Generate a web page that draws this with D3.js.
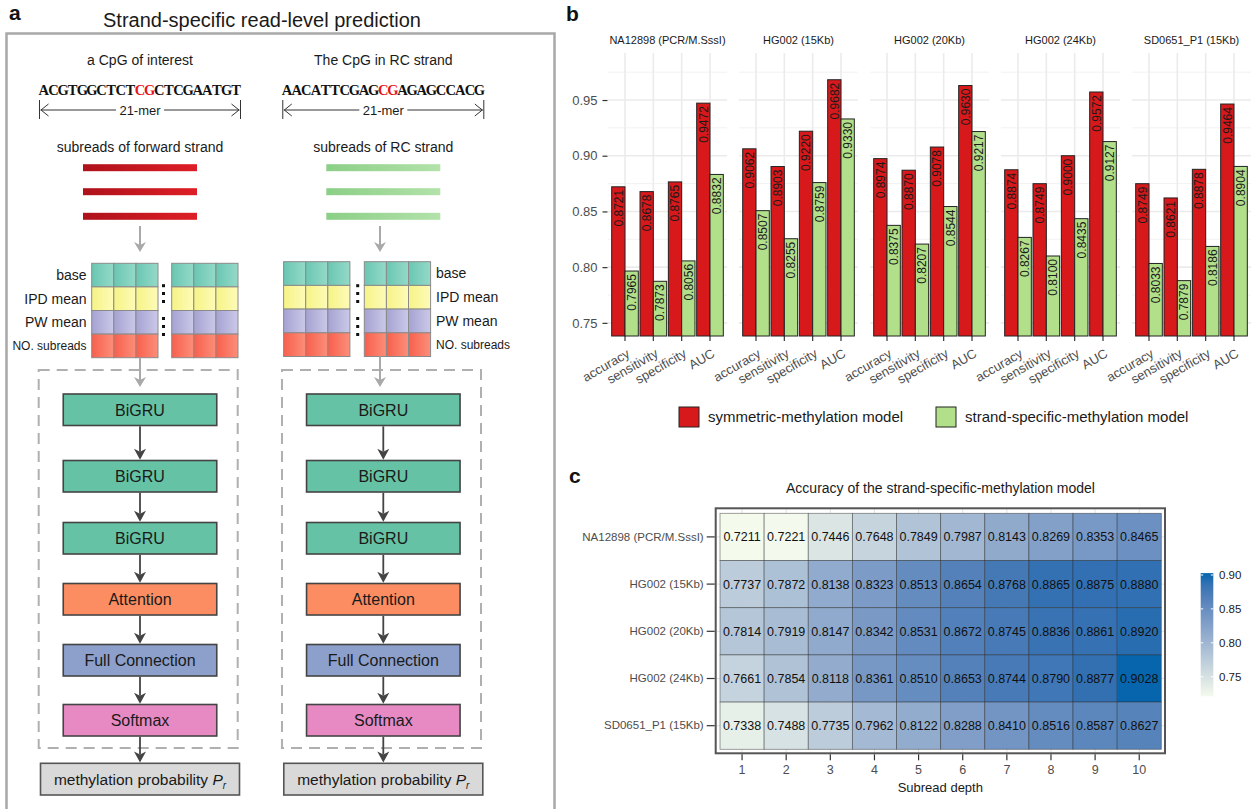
<!DOCTYPE html>
<html>
<head>
<meta charset="utf-8">
<script src="https://cdn.jsdelivr.net/npm/d3@7"></script>
<style>
  body { margin: 0; background: #fff; }
  svg { display: block; font-family: "Liberation Sans", Arial, sans-serif; }
</style>
</head>
<body>
<svg id="fig" width="1255" height="809"></svg>
<script>
// ---------------- data ----------------
const datasets = ["NA12898 (PCR/M.SssI)", "HG002 (15Kb)", "HG002 (20Kb)", "HG002 (24Kb)", "SD0651_P1 (15Kb)"];
const metrics = ["accuracy", "sensitivity", "specificity", "AUC"];
const models = ["symmetric-methylation model", "strand-specific-methylation model"];

// rows: datasets, columns: metrics
const symmetricValues = [
  [0.8721, 0.8678, 0.8765, 0.9472],
  [0.9062, 0.8903, 0.9220, 0.9682],
  [0.8974, 0.8870, 0.9078, 0.9630],
  [0.8874, 0.8749, 0.9000, 0.9572],
  [0.8749, 0.8621, 0.8878, 0.9464]
];
const strandValues = [
  [0.7965, 0.7873, 0.8056, 0.8832],
  [0.8507, 0.8255, 0.8759, 0.9330],
  [0.8375, 0.8207, 0.8544, 0.9217],
  [0.8267, 0.8100, 0.8435, 0.9127],
  [0.8033, 0.7879, 0.8186, 0.8904]
];
const barTicks = [0.75, 0.80, 0.85, 0.90, 0.95];
const barMinorTicks = [0.775, 0.825, 0.875, 0.925, 0.975];

const depths = [1, 2, 3, 4, 5, 6, 7, 8, 9, 10];
// rows: datasets, columns: subread depth
const depthAccuracy = [
  [0.7211, 0.7221, 0.7446, 0.7648, 0.7849, 0.7987, 0.8143, 0.8269, 0.8353, 0.8465],
  [0.7737, 0.7872, 0.8138, 0.8323, 0.8513, 0.8654, 0.8768, 0.8865, 0.8875, 0.8880],
  [0.7814, 0.7919, 0.8147, 0.8342, 0.8531, 0.8672, 0.8745, 0.8836, 0.8861, 0.8920],
  [0.7661, 0.7854, 0.8118, 0.8361, 0.8510, 0.8653, 0.8744, 0.8790, 0.8877, 0.9028],
  [0.7338, 0.7488, 0.7735, 0.7962, 0.8122, 0.8288, 0.8410, 0.8516, 0.8587, 0.8627]
];
const colorbarTicks = [0.75, 0.80, 0.85, 0.90];

// schematic labels
const forwardSeq = ["ACGTGGCTCT", "CG", "CTCGAATGT"];
const rcSeq = ["AACATTCGAG", "CG", "AGAGCCACG"];
const featureRows = ["base", "IPD mean", "PW mean", "NO. subreads"];
const layers = ["BiGRU", "BiGRU", "BiGRU", "Attention", "Full Connection", "Softmax"];

// ---------------- setup ----------------
const svg = d3.select("#fig");
const defs = svg.append("defs");
const TXT = "#1a1a1a", AXT = "#4d4d4d";

function hGrad(id, c0, c1) {
  const g = defs.append("linearGradient").attr("id", id)
    .attr("x1", 0).attr("y1", 0).attr("x2", 1).attr("y2", 0);
  g.append("stop").attr("offset", 0).attr("stop-color", c0);
  g.append("stop").attr("offset", 1).attr("stop-color", c1);
}
hGrad("gRed", "#ae121b", "#de1e26");
hGrad("gGreen", "#8bcf86", "#b3e2aa");
const rowGrads = [
  ["gBase", "#69c7b2", "#95d9c8"],
  ["gIpd", "#f6f386", "#fdfbb8"],
  ["gPw", "#a5a2d2", "#cbc9e8"],
  ["gNo", "#f85f4c", "#fb8f7a"]
];
rowGrads.forEach(r => hGrad(r[0], r[1], r[2]));

// ================= panel a: schematic =================
const A = svg.append("g");
A.append("text").attr("x", 9).attr("y", 20).attr("font-size", 21).attr("font-weight", "bold")
  .attr("fill", "#111").text("a");
A.append("text").attr("x", 262).attr("y", 27).attr("text-anchor", "middle")
  .attr("font-size", 20).attr("fill", TXT).text("Strand-specific read-level prediction");
A.append("rect").attr("x", 6.5).attr("y", 33.5).attr("width", 548).attr("height", 800)
  .attr("fill", "none").attr("stroke", "#a8a8a8").attr("stroke-width", 2.5);

function strandColumn(opt) {
  const g = A.append("g");
  const cx = opt.cx;
  g.append("text").attr("x", cx).attr("y", 65).attr("text-anchor", "middle")
    .attr("font-size", 14).attr("fill", TXT).text(opt.title);

  // 21-mer sequence, one character per monospace cell
  const chars = [];
  opt.seq.forEach((part, k) => part.split("").forEach(ch => chars.push({ ch, red: k === 1 })));
  const cw = 9.62, x0 = cx - cw * chars.length / 2;
  g.selectAll(null).data(chars).join("text")
    .attr("x", (d, i) => x0 + (i + 0.5) * cw).attr("y", 95)
    .attr("text-anchor", "middle").attr("font-family", "'Liberation Serif', 'Times New Roman', serif")
    .attr("font-weight", "bold").attr("font-size", 14.5)
    .attr("fill", d => d.red ? "#e8141b" : "#111").text(d => d.ch);

  // 21-mer span arrow
  const xl = x0 + 0.5, xr = x0 + cw * chars.length - 0.5, ya = 110;
  const s = g.append("g").attr("stroke", "#333").attr("stroke-width", 1).attr("fill", "none");
  s.append("line").attr("x1", xl).attr("x2", xl).attr("y1", 100).attr("y2", 119);
  s.append("line").attr("x1", xr).attr("x2", xr).attr("y1", 100).attr("y2", 119);
  s.append("line").attr("x1", xl + 1).attr("x2", cx - 24).attr("y1", ya).attr("y2", ya);
  s.append("line").attr("x1", cx + 24).attr("x2", xr - 1).attr("y1", ya).attr("y2", ya);
  s.append("path").attr("d", `M${xl + 9},${ya - 6} L${xl + 1.5},${ya} L${xl + 9},${ya + 6}`);
  s.append("path").attr("d", `M${xr - 9},${ya - 6} L${xr - 1.5},${ya} L${xr - 9},${ya + 6}`);
  g.append("text").attr("x", cx).attr("y", ya + 4.5).attr("text-anchor", "middle")
    .attr("font-size", 13).attr("fill", TXT).text("21-mer");

  // subreads
  g.append("text").attr("x", cx).attr("y", 152).attr("text-anchor", "middle")
    .attr("font-size", 14).attr("fill", TXT).text(opt.subTitle);
  [167.7, 191.7, 216.3].forEach(y => {
    g.append("rect").attr("x", cx - 57).attr("y", y - 3.5).attr("width", 114).attr("height", 7)
      .attr("fill", `url(#${opt.grad})`);
  });

  // gray arrow down to feature matrix
  grayArrow(g, opt.arrowX, 226, 252);

  // feature matrix: two blocks of three columns, four rows
  const cellW = 22.1, rowH = opt.rowH, yTop = opt.gridTop;
  opt.blocks.forEach(bx => {
    featureRows.forEach((lab, r) => {
      for (let c = 0; c < 3; c++) {
        g.append("rect").attr("x", bx + c * cellW).attr("y", yTop + r * rowH)
          .attr("width", cellW).attr("height", rowH)
          .attr("fill", `url(#${rowGrads[r][0]})`).attr("stroke", "#8a8a8a").attr("stroke-width", 1);
      }
    });
  });
  // vertical ellipses between the blocks
  [[285.7, 293.5, 301.5], [318.5, 326.5, 334.5]].forEach(grp => grp.forEach(y => {
    g.append("rect").attr("x", opt.dotX - 1.5).attr("y", y - 1.5).attr("width", 3).attr("height", 3).attr("fill", "#111");
  }));
  featureRows.forEach((lab, r) => {
    g.append("text").attr("x", opt.labelX).attr("y", yTop + (r + 0.5) * rowH)
      .attr("dy", "0.35em").attr("text-anchor", opt.labelAnchor)
      .attr("font-size", r === 3 ? 12 : 14).attr("fill", TXT).text(lab);
  });

  // dashed network container
  g.append("rect").attr("x", opt.dashX).attr("y", 370).attr("width", 199).attr("height", 378)
    .attr("fill", "none").attr("stroke", "#b0b0b0").attr("stroke-width", 2)
    .attr("stroke-dasharray", "11,7");
  grayArrow(g, opt.arrowX, yTop + 4 * rowH, 387);

  // layer boxes
  const tops = [394, 460.5, 522.5, 583.5, 644.5, 704.5], bh = 31.5, bw = 153.5;
  const fills = ["#66c2a5", "#66c2a5", "#66c2a5", "#fc8d62", "#8da0cb", "#e78ac3"];
  layers.forEach((lab, i) => {
    g.append("rect").attr("x", cx - bw / 2).attr("y", tops[i]).attr("width", bw).attr("height", bh)
      .attr("fill", fills[i]).attr("stroke", "#444").attr("stroke-width", 1.6);
    g.append("text").attr("x", cx).attr("y", tops[i] + bh / 2).attr("dy", "0.36em")
      .attr("text-anchor", "middle").attr("font-size", 16).attr("fill", "#1a1a1a").text(lab);
    const yEnd = i < layers.length - 1 ? tops[i + 1] : 763.3;
    darkArrow(g, cx, tops[i] + bh + 0.8, yEnd - 0.8);
  });
  // output box
  g.append("rect").attr("x", cx - 99.5).attr("y", 763.3).attr("width", 199).attr("height", 31.7)
    .attr("fill", "#d9d9d9").attr("stroke", "#555").attr("stroke-width", 1.6);
  const t = g.append("text").attr("x", cx).attr("y", 779.2).attr("dy", "0.36em")
    .attr("text-anchor", "middle").attr("font-size", 15.5).attr("fill", "#1a1a1a");
  t.append("tspan").text("methylation probability ");
  t.append("tspan").attr("font-style", "italic").text("P");
  t.append("tspan").attr("font-style", "italic").attr("font-size", 10).attr("dy", 4).text("r");
}

function grayArrow(g, x, y1, y2) {
  g.append("line").attr("x1", x).attr("x2", x).attr("y1", y1).attr("y2", y2 - 7)
    .attr("stroke", "#a9a9a9").attr("stroke-width", 2);
  g.append("path").attr("d", `M${x - 6},${y2 - 10} L${x},${y2} L${x + 6},${y2 - 10} L${x},${y2 - 7} Z`)
    .attr("fill", "#a9a9a9");
}
function darkArrow(g, x, y1, y2) {
  g.append("line").attr("x1", x).attr("x2", x).attr("y1", y1).attr("y2", y2 - 8)
    .attr("stroke", "#444").attr("stroke-width", 1.8);
  g.append("path").attr("d", `M${x - 6},${y2 - 11} L${x},${y2} L${x + 6},${y2 - 11} L${x},${y2 - 8} Z`)
    .attr("fill", "#444");
}

strandColumn({
  cx: 140, title: "a CpG of interest", seq: forwardSeq, subTitle: "subreads of forward strand",
  grad: "gRed", arrowX: 140, gridTop: 263.3, rowH: 23.6, blocks: [91.7, 171.7], dotX: 163.5,
  labelX: 86.5, labelAnchor: "end", dashX: 38.7
});
strandColumn({
  cx: 383.3, title: "The CpG in RC strand", seq: rcSeq, subTitle: "subreads of RC strand",
  grad: "gGreen", arrowX: 380, gridTop: 261.7, rowH: 23.7, blocks: [283.6, 364.3], dotX: 357.7,
  labelX: 436, labelAnchor: "start", dashX: 282
});

// ================= panel b: grouped bars =================
const B = svg.append("g");
B.append("text").attr("x", 566).attr("y", 21).attr("font-size", 21).attr("font-weight", "bold")
  .attr("fill", "#111").text("b");

const facet = d3.scaleBand().domain(datasets).range([608, 1251]).paddingInner(0.0916).paddingOuter(0);
const xm = d3.scalePoint().domain(metrics).range([0, facet.bandwidth()]).padding(0.6);
const dodge = d3.scaleBand().domain(models).range([-0.47 * xm.step(), 0.47 * xm.step()]);
const yb = d3.scaleLinear().domain([0.7382, 0.9922]).range([336, 53]);
const modelColor = d3.scaleOrdinal().domain(models).range(["#d7191c", "#b2df8a"]);

// y axis (left of first facet)
const yAxis = d3.axisLeft(yb).tickValues(barTicks).tickFormat(d3.format(".2f")).tickSize(5).tickPadding(5);
const yAx = B.append("g").attr("transform", `translate(${facet(datasets[0]) - 0.5},0)`).call(yAxis);
yAx.select(".domain").remove();
yAx.selectAll(".tick line").attr("stroke", "#333").attr("stroke-width", 1.2);
yAx.selectAll(".tick text").attr("fill", AXT).attr("font-size", 13).attr("font-family", null);

datasets.forEach((ds, di) => {
  const g = B.append("g").attr("transform", `translate(${facet(ds)},0)`);
  const w = facet.bandwidth();
  // grid
  g.selectAll(null).data(barMinorTicks).join("line")
    .attr("x1", 0).attr("x2", w).attr("y1", d => yb(d)).attr("y2", d => yb(d))
    .attr("stroke", "#efefef").attr("stroke-width", 0.8);
  g.selectAll(null).data(barTicks).join("line")
    .attr("x1", 0).attr("x2", w).attr("y1", d => yb(d)).attr("y2", d => yb(d))
    .attr("stroke", "#ebebeb").attr("stroke-width", 1.6);
  g.selectAll(null).data(metrics).join("line")
    .attr("x1", d => xm(d)).attr("x2", d => xm(d)).attr("y1", yb.range()[1]).attr("y2", yb.range()[0])
    .attr("stroke", "#ebebeb").attr("stroke-width", 1.6);

  // strip label
  g.append("text").attr("x", w / 2).attr("y", 44).attr("text-anchor", "middle")
    .attr("font-size", 11).attr("fill", TXT).text(ds);

  // bars
  const rows = [];
  metrics.forEach((m, mi) => {
    rows.push({ m, model: models[0], v: symmetricValues[di][mi] });
    rows.push({ m, model: models[1], v: strandValues[di][mi] });
  });
  g.selectAll(null).data(rows).join("rect")
    .attr("x", d => xm(d.m) + dodge(d.model))
    .attr("y", d => yb(d.v))
    .attr("width", dodge.bandwidth())
    .attr("height", d => yb.range()[0] - yb(d.v))
    .attr("fill", d => modelColor(d.model))
    .attr("stroke", "#222").attr("stroke-width", 1);
  g.selectAll(null).data(rows).join("text")
    .attr("transform", d => `translate(${xm(d.m) + dodge(d.model) + dodge.bandwidth() / 2},${yb(d.v) + 3}) rotate(-90)`)
    .attr("text-anchor", "end").attr("dy", "0.36em")
    .attr("font-size", 12).attr("fill", "#1a1a1a").text(d => d.v.toFixed(4));

  // x axis ticks and rotated labels
  g.selectAll(null).data(metrics).join("line")
    .attr("x1", d => xm(d)).attr("x2", d => xm(d)).attr("y1", 336).attr("y2", 341)
    .attr("stroke", "#333").attr("stroke-width", 1.2);
  g.selectAll(null).data(metrics).join("text")
    .attr("transform", d => `translate(${xm(d) + 1},${348}) rotate(-30)`)
    .attr("text-anchor", "end").attr("dy", "0.72em")
    .attr("font-size", 13).attr("fill", AXT).text(d => d);
});

// legend
const leg = B.append("g");
[[679, 708, models[0]], [936, 965, models[1]]].forEach(([kx, tx, lab]) => {
  leg.append("rect").attr("x", kx).attr("y", 407).attr("width", 20).attr("height", 20)
    .attr("fill", modelColor(lab)).attr("stroke", "#222").attr("stroke-width", 1);
  leg.append("text").attr("x", tx).attr("y", 417).attr("dy", "0.36em")
    .attr("font-size", 15).attr("fill", TXT).text(lab);
});

// ================= panel c: heatmap =================
const C = svg.append("g");
C.append("text").attr("x", 569).attr("y", 483).attr("font-size", 21).attr("font-weight", "bold")
  .attr("fill", "#111").text("c");
C.append("text").attr("x", 940.5).attr("y", 493).attr("text-anchor", "middle")
  .attr("font-size", 14).attr("fill", TXT).text("Accuracy of the strand-specific-methylation model");

const allAcc = depthAccuracy.flat();
const accMin = d3.min(allAcc), accMax = d3.max(allAcc);
const fill = d3.scaleLinear().domain([accMin, accMax]).range(["#f4faec", "#0665ad"]).interpolate(d3.interpolateLab);

const xh = d3.scaleBand().domain(depths).range([720, 1161.3]);
const yh = d3.scaleBand().domain(datasets).range([513.3, 749.3]);
const px0 = 715.7, px1 = 1165, py0 = 508.3, py1 = 753.3;

// panel grid
C.selectAll(null).data(depths).join("line")
  .attr("x1", d => xh(d) + xh.bandwidth() / 2).attr("x2", d => xh(d) + xh.bandwidth() / 2)
  .attr("y1", py0).attr("y2", py1).attr("stroke", "#e3e3e3").attr("stroke-width", 1);
C.selectAll(null).data(datasets).join("line")
  .attr("y1", d => yh(d) + yh.bandwidth() / 2).attr("y2", d => yh(d) + yh.bandwidth() / 2)
  .attr("x1", px0).attr("x2", px1).attr("stroke", "#e3e3e3").attr("stroke-width", 1);

const cells = [];
datasets.forEach((ds, r) => depths.forEach((dp, c) => cells.push({ ds, dp, v: depthAccuracy[r][c] })));
C.selectAll(null).data(cells).join("rect")
  .attr("x", d => xh(d.dp)).attr("y", d => yh(d.ds))
  .attr("width", xh.bandwidth()).attr("height", yh.bandwidth())
  .attr("fill", d => fill(d.v)).attr("stroke", "rgba(40,40,40,0.55)").attr("stroke-width", 0.8);
C.selectAll(null).data(cells).join("text")
  .attr("x", d => xh(d.dp) + xh.bandwidth() / 2).attr("y", d => yh(d.ds) + yh.bandwidth() / 2)
  .attr("dy", "0.36em").attr("text-anchor", "middle").attr("font-size", 12.5).attr("fill", "#111")
  .text(d => d.v.toFixed(4));

C.append("rect").attr("x", px0).attr("y", py0).attr("width", px1 - px0).attr("height", py1 - py0)
  .attr("fill", "none").attr("stroke", "#555").attr("stroke-width", 2);

// axes
const xha = C.append("g").attr("transform", `translate(0,${py1 + 1})`)
  .call(d3.axisBottom(xh).tickSize(6).tickPadding(5));
xha.select(".domain").remove();
xha.selectAll(".tick line").attr("stroke", "#333").attr("stroke-width", 1.2);
xha.selectAll(".tick text").attr("fill", AXT).attr("font-size", 12.5).attr("font-family", null);
const yha = C.append("g").attr("transform", `translate(${px0 - 1},0)`)
  .call(d3.axisLeft(yh).tickSize(8).tickPadding(3));
yha.select(".domain").remove();
yha.selectAll(".tick line").attr("stroke", "#333").attr("stroke-width", 1.2);
yha.selectAll(".tick text").attr("fill", AXT).attr("font-size", 11.5).attr("font-family", null);
C.append("text").attr("x", 940.3).attr("y", 792).attr("text-anchor", "middle")
  .attr("font-size", 13).attr("fill", TXT).text("Subread depth");

// colour bar
const cb = d3.scaleLinear().domain([accMin, accMax]).range([696.3, 573.1]);
const cbg = defs.append("linearGradient").attr("id", "gBar")
  .attr("x1", 0).attr("y1", 1).attr("x2", 0).attr("y2", 0);
d3.range(0, 1.0001, 0.1).forEach(t => {
  cbg.append("stop").attr("offset", t).attr("stop-color", fill(accMin + t * (accMax - accMin)));
});
const cbx = 1200.7, cbw = 12.6;
C.append("rect").attr("x", cbx).attr("y", cb(accMax)).attr("width", cbw)
  .attr("height", cb(accMin) - cb(accMax)).attr("fill", "url(#gBar)");
colorbarTicks.forEach(v => {
  C.append("line").attr("x1", cbx).attr("x2", cbx + 2.5).attr("y1", cb(v)).attr("y2", cb(v))
    .attr("stroke", "#fff").attr("stroke-width", 1);
  C.append("line").attr("x1", cbx + cbw - 2.5).attr("x2", cbx + cbw).attr("y1", cb(v)).attr("y2", cb(v))
    .attr("stroke", "#fff").attr("stroke-width", 1);
  C.append("text").attr("x", 1219).attr("y", cb(v)).attr("dy", "0.36em")
    .attr("font-size", 11.5).attr("fill", TXT).text(v.toFixed(2));
});
</script>
</body>
</html>
